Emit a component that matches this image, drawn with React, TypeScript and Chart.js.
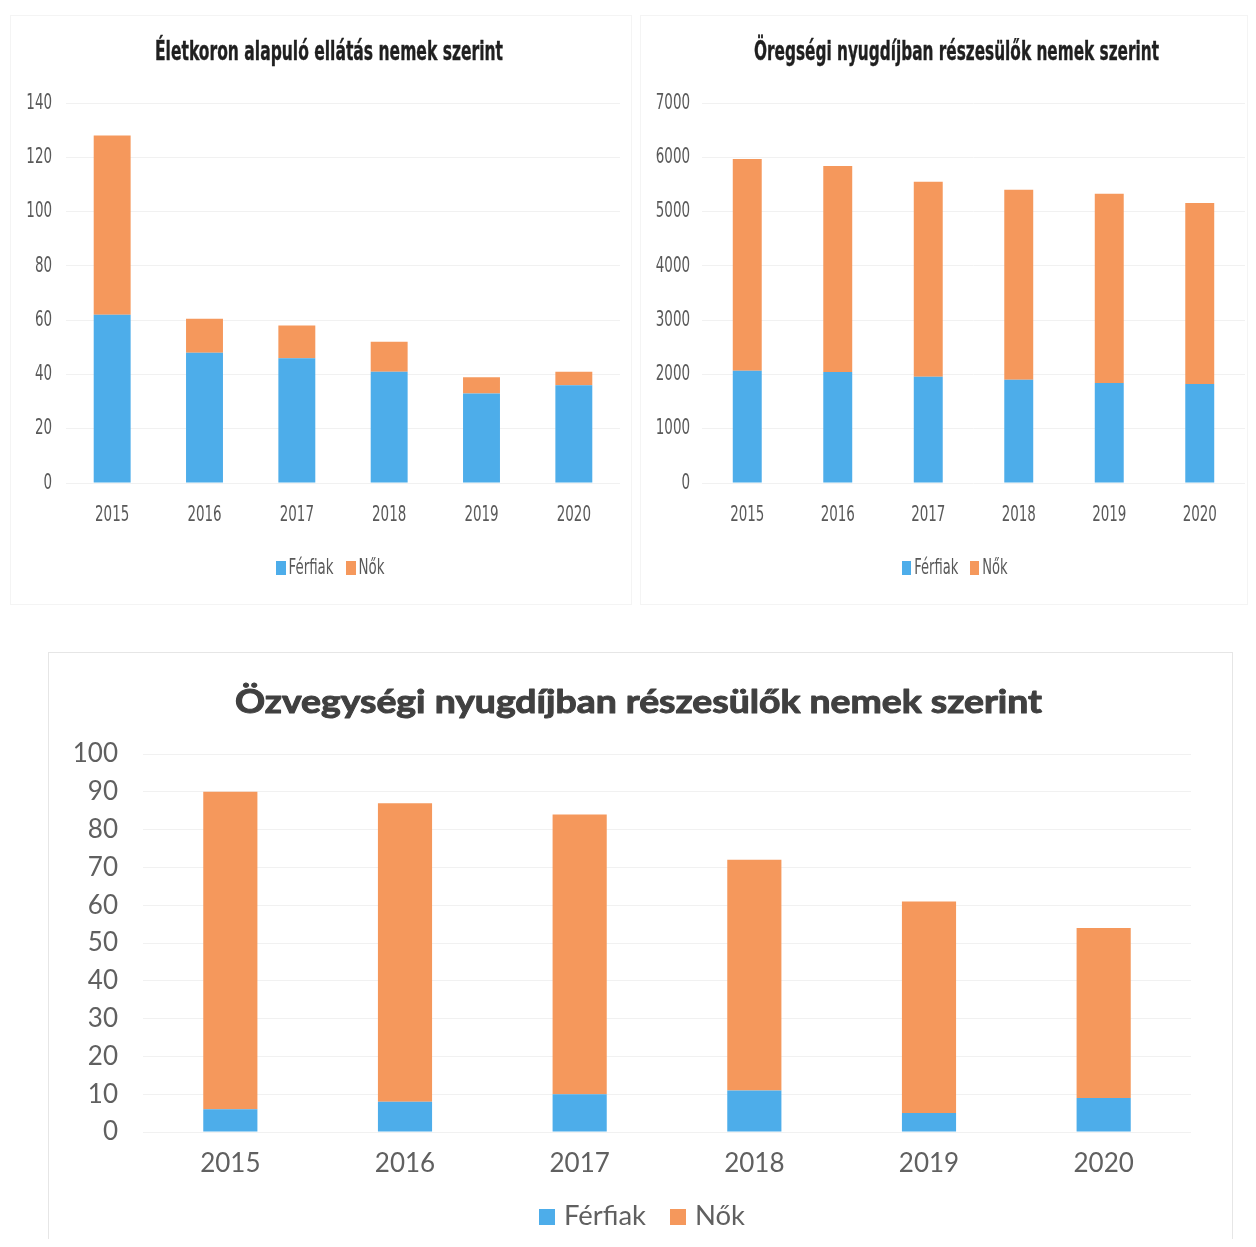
import React, { useEffect, useRef } from "react";
import { Chart, registerables } from "chart.js";
Chart.register(...registerables);

const years = ["2015", "2016", "2017", "2018", "2019", "2020"];

const eletkorFerfiak = [62, 48, 46, 41, 33, 36];
const eletkorNok = [66, 12.5, 12, 11, 6, 5];
const eletkorTicks = [0, 20, 40, 60, 80, 100, 120, 140];

const oregsegiFerfiak = [2070, 2045, 1955, 1900, 1840, 1825];
const oregsegiNok = [3900, 3795, 3595, 3500, 3490, 3335];
const oregsegiTicks = [0, 1000, 2000, 3000, 4000, 5000, 6000, 7000];

const ozvegyFerfiak = [6, 8, 10, 11, 5, 9];
const ozvegyNok = [84, 79, 74, 61, 56, 45];
const ozvegyTicks = [0, 10, 20, 30, 40, 50, 60, 70, 80, 90, 100];

const seriesNames = ["Férfiak", "Nők"];
const BLUE = "#4DADEA";
const ORANGE = "#F5985C";

const NARROW = "'DejaVu Sans Condensed', 'DejaVu Sans', sans-serif";
const WIDE = "Lato, 'Open Sans', sans-serif";

type Cfg = {
  left: number; top: number; width: number; height: number;
  title: string; titleFont: string; titleX: number; titleY: number; titleW: number; titleColor: string; titleStroke: number;
  legendFont: string; legendX: number; legendY: number; legendRefW: number;
  boxW: number; boxH: number; gap: number; spacing: number;
  tickFont: string; tickSX: number; tickColor: string;
  yW: number; yPad: number; xH: number; xOff: number;
  pad: { top: number; bottom: number; right: number };
  barPct: number;
  ferfiak: number[]; nok: number[]; ticks: number[];
};

function drawText(ctx: CanvasRenderingContext2D, text: string, x: number, y: number, align: CanvasTextAlign, sx: number) {
  ctx.save();
  ctx.translate(x, y);
  ctx.scale(sx, 1);
  ctx.textAlign = align;
  ctx.textBaseline = "middle";
  ctx.fillText(text, 0, 0);
  ctx.restore();
}

function ChartPanel({ cfg }: { cfg: Cfg }) {
  const ref = useRef<HTMLCanvasElement>(null);
  useEffect(() => {
    const overlay = {
      id: "overlay",
      afterDraw(chart: any) {
        const ctx: CanvasRenderingContext2D = chart.ctx;
        const area = chart.chartArea;
        ctx.save();
        // axis labels placed with the chart's own scales
        ctx.font = cfg.tickFont;
        ctx.fillStyle = cfg.tickColor;
        const ys = chart.scales.y;
        ys.ticks.forEach((t: any) => {
          drawText(ctx, String(t.value), area.left - cfg.yPad, ys.getPixelForValue(t.value), "right", cfg.tickSX);
        });
        const xs = chart.scales.x;
        chart.data.labels.forEach((lab: string, i: number) => {
          drawText(ctx, lab, xs.getPixelForValue(i), area.bottom + cfg.xOff, "center", cfg.tickSX);
        });
        // title
        ctx.font = cfg.titleFont;
        ctx.fillStyle = cfg.titleColor;
        const tw = ctx.measureText(cfg.title).width;
        const tsx = cfg.titleW / tw;
        ctx.save();
        ctx.translate(cfg.titleX, cfg.titleY);
        ctx.scale(tsx, 1);
        ctx.textAlign = "center";
        ctx.textBaseline = "middle";
        if (cfg.titleStroke > 0) {
          ctx.strokeStyle = cfg.titleColor;
          ctx.lineWidth = cfg.titleStroke;
          ctx.lineJoin = "round";
          ctx.strokeText(cfg.title, 0, 0);
        }
        ctx.fillText(cfg.title, 0, 0);
        ctx.restore();
        // legend
        ctx.font = cfg.legendFont;
        const items = chart.data.datasets.map((d: any) => ({ text: d.label, color: d.backgroundColor }));
        const lsx = cfg.legendRefW / ctx.measureText(items[0].text).width;
        const widths = items.map((it: any) => ctx.measureText(it.text).width * lsx);
        let total = 0;
        items.forEach((_: any, i: number) => { total += cfg.boxW + cfg.gap + widths[i]; });
        total += cfg.spacing * (items.length - 1);
        let x = cfg.legendX - total / 2;
        items.forEach((it: any, i: number) => {
          ctx.fillStyle = it.color;
          ctx.fillRect(Math.round(x), Math.round(cfg.legendY - cfg.boxH / 2), cfg.boxW, cfg.boxH);
          x += cfg.boxW + cfg.gap;
          ctx.fillStyle = cfg.tickColor;
          drawText(ctx, it.text, x, cfg.legendY, "left", lsx);
          x += widths[i] + cfg.spacing;
        });
        ctx.restore();
      },
    };
    const chart = new Chart(ref.current!, {
      type: "bar",
      data: {
        labels: years,
        datasets: [
          { label: seriesNames[0], data: cfg.ferfiak, backgroundColor: BLUE, categoryPercentage: 1, barPercentage: cfg.barPct },
          { label: seriesNames[1], data: cfg.nok, backgroundColor: ORANGE, categoryPercentage: 1, barPercentage: cfg.barPct },
        ],
      },
      options: {
        animation: false,
        responsive: false,
        devicePixelRatio: 1,
        layout: { padding: { top: cfg.pad.top, bottom: cfg.pad.bottom, left: 0, right: cfg.pad.right } },
        plugins: { legend: { display: false }, title: { display: false }, tooltip: { enabled: false } },
        scales: {
          x: {
            stacked: true,
            grid: { display: false },
            border: { display: false },
            ticks: { display: false },
            afterFit: (s: any) => { s.height = cfg.xH; },
          },
          y: {
            stacked: true,
            min: cfg.ticks[0],
            max: cfg.ticks[cfg.ticks.length - 1],
            grid: { color: "#f1f1f1", drawTicks: false },
            border: { display: false },
            ticks: { display: false },
            afterBuildTicks: (s: any) => { s.ticks = cfg.ticks.map((v) => ({ value: v })); },
            afterFit: (s: any) => { s.width = cfg.yW; },
          },
        },
      },
      plugins: [overlay],
    });
    return () => chart.destroy();
  }, [cfg]);
  return (
    <canvas
      ref={ref}
      width={cfg.width}
      height={cfg.height}
      style={{ position: "absolute", left: cfg.left - 8, top: cfg.top - 8, width: cfg.width, height: cfg.height }}
    />
  );
}

const cfg1: Cfg = {
  left: 10, top: 15, width: 622, height: 590,
  title: "Életkoron alapuló ellátás nemek szerint",
  titleFont: `bold 27px ${NARROW}`, titleX: 319, titleY: 38, titleW: 348, titleColor: "#1f1f1f", titleStroke: 0.4,
  legendFont: `22px ${NARROW}`, legendX: 320, legendY: 553, legendRefW: 45,
  boxW: 10, boxH: 14, gap: 3, spacing: 12,
  tickFont: `22px ${NARROW}`, tickSX: 0.68, tickColor: "#595959",
  yW: 56, yPad: 14, xH: 50, xOff: 32,
  pad: { top: 88, bottom: 72, right: 12 },
  barPct: 0.4,
  ferfiak: eletkorFerfiak, nok: eletkorNok, ticks: eletkorTicks,
};

const cfg2: Cfg = {
  left: 640, top: 15, width: 608, height: 590,
  title: "Öregségi nyugdíjban részesülők nemek szerint",
  titleFont: `bold 27px ${NARROW}`, titleX: 316.5, titleY: 38, titleW: 405, titleColor: "#1f1f1f", titleStroke: 0.4,
  legendFont: `22px ${NARROW}`, legendX: 315, legendY: 553, legendRefW: 44,
  boxW: 9, boxH: 14, gap: 3, spacing: 12,
  tickFont: `22px ${NARROW}`, tickSX: 0.68, tickColor: "#595959",
  yW: 62, yPad: 12, xH: 50, xOff: 32,
  pad: { top: 88, bottom: 72, right: 3 },
  barPct: 0.32,
  ferfiak: oregsegiFerfiak, nok: oregsegiNok, ticks: oregsegiTicks,
};

const cfg3: Cfg = {
  left: 49, top: 653, width: 1182, height: 593,
  title: "Özvegységi nyugdíjban részesülők nemek szerint",
  titleFont: `bold 32px ${WIDE}`, titleX: 589.5, titleY: 50, titleW: 807, titleColor: "#404040", titleStroke: 1,
  legendFont: `26px ${WIDE}`, legendX: 593, legendY: 564, legendRefW: 82,
  boxW: 16, boxH: 16, gap: 9, spacing: 24,
  tickFont: `26px ${WIDE}`, tickSX: 1.0, tickColor: "#606060",
  yW: 94, yPad: 25, xH: 60, xOff: 32,
  pad: { top: 101, bottom: 54, right: 40 },
  barPct: 0.31,
  ferfiak: ozvegyFerfiak, nok: ozvegyNok, ticks: ozvegyTicks,
};

export default function App() {
  return (
    <div style={{ position: "relative", width: 1240, height: 1231 }}>
      <div style={{ position: "absolute", left: 10 - 8, top: 15 - 8, width: 620, height: 588, border: "1px solid #f4f4f4" }} />
      <div style={{ position: "absolute", left: 640 - 8, top: 15 - 8, width: 606, height: 588, border: "1px solid #f4f4f4" }} />
      <div style={{ position: "absolute", left: 48 - 8, top: 652 - 8, width: 1183, height: 600, border: "1px solid #e6e6e6", borderBottom: "none" }} />
      <ChartPanel cfg={cfg1} />
      <ChartPanel cfg={cfg2} />
      <ChartPanel cfg={cfg3} />
    </div>
  );
}
